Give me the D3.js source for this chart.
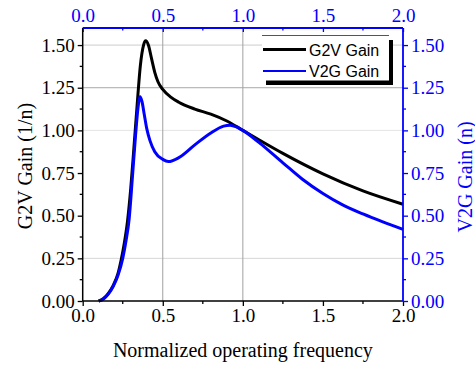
<!DOCTYPE html>
<html><head><meta charset="utf-8">
<script src="https://cdn.jsdelivr.net/npm/d3@7"></script>
<style>body{margin:0;background:#fff}svg{display:block}</style>
</head><body>
<svg id="c" width="475" height="367"></svg>
<script>
const seriesNames = ["G2V Gain", "V2G Gain"];
const seriesColors = ["#000000", "#0000ff"];
const g2vFreq = [0.10,0.13,0.16,0.19,0.22,0.24,0.26,0.28,0.30,0.32,0.34,0.36,0.38,0.393,0.41,0.43,0.45,0.47,0.50,0.55,0.60,0.70,0.80,0.90,1.00,1.10,1.25,1.50,1.75,2.00];
const g2vGain = [0.00,0.015,0.045,0.09,0.16,0.24,0.34,0.47,0.66,0.90,1.15,1.38,1.50,1.525,1.50,1.42,1.34,1.285,1.24,1.195,1.165,1.125,1.095,1.055,1.00,0.945,0.865,0.745,0.645,0.567];
const v2gFreq = [0.10,0.13,0.16,0.19,0.22,0.25,0.27,0.29,0.31,0.33,0.345,0.358,0.37,0.385,0.40,0.42,0.45,0.50,0.535,0.60,0.70,0.80,0.88,0.92,0.96,1.00,1.10,1.25,1.37,1.50,1.62,1.75,1.87,2.00];
const v2gGain = [0.00,0.012,0.04,0.085,0.15,0.25,0.35,0.48,0.72,0.97,1.13,1.197,1.17,1.09,1.01,0.94,0.875,0.83,0.817,0.84,0.915,0.985,1.025,1.03,1.02,1.00,0.93,0.81,0.715,0.63,0.565,0.51,0.465,0.42];
const xTicks = [0.0,0.5,1.0,1.5,2.0];
const xMinor = [0.25,0.75,1.25,1.75];
const yTicks = [0.00,0.25,0.50,0.75,1.00,1.25,1.50];
const yMinor = [0.125,0.375,0.625,0.875,1.125,1.375];
const hGrid = [0.25,1.00,1.25,1.50];
const vGrid = [0.5,1.0];
const xTitle = "Normalized operating frequency";
const yLeftTitle = "G2V Gain (1/n)";
const yRightTitle = "V2G Gain (n)";

const svg = d3.select("#c");
const L=82.7, R=403, T=28, B=301;
const x = d3.scaleLinear([0,2],[L,R]);
const y = d3.scaleLinear([0,1.6],[B,T]);
const serif = "'Liberation Serif','Times New Roman',serif";
const sans = "'Liberation Sans',Arial,sans-serif";
const blue = "#0000ff";

// grid
const hShade = {0.25:"#d6d6d6",1.00:"#e4e4e4",1.25:"#a8a8a8",1.50:"#cccccc"};
svg.append("g").selectAll("line").data(hGrid).join("line")
  .attr("x1",L).attr("x2",R).attr("y1",d=>y(d)).attr("y2",d=>y(d))
  .attr("stroke",d=>hShade[d]).attr("stroke-width",1);
svg.append("g").selectAll("line").data(vGrid).join("line")
  .attr("y1",T).attr("y2",B).attr("x1",d=>x(d)).attr("x2",d=>x(d))
  .attr("stroke","#a0a0a0").attr("stroke-width",1);

// curves
const line = d3.line().x(d=>x(d[0])).y(d=>y(d[1])).curve(d3.curveMonotoneX);
const g2v = g2vFreq.map((f,i)=>[f,g2vGain[i]]);
const v2g = v2gFreq.map((f,i)=>[f,v2gGain[i]]);
svg.append("path").datum(g2v).attr("d",line).attr("fill","none").attr("stroke",seriesColors[0]).attr("stroke-width",3);
svg.append("path").datum(v2g).attr("d",line).attr("fill","none").attr("stroke",seriesColors[1]).attr("stroke-width",3);

function styleAxis(g,color){
  g.select(".domain").remove();
  g.selectAll("line").attr("stroke",color).attr("stroke-width",1.3);
  g.selectAll("text").attr("fill",color).style("font-family",serif).style("font-size","19px");
}
// bottom
const gb = svg.append("g").attr("transform",`translate(0,${B})`)
  .call(d3.axisBottom(x).tickValues(xTicks).tickFormat(d3.format(".1f")).tickSizeInner(5).tickSizeOuter(0).tickPadding(3));
styleAxis(gb,"#000");
gb.append("g").selectAll("line").data(xMinor).join("line").attr("x1",d=>x(d)).attr("x2",d=>x(d)).attr("y1",0).attr("y2",3).attr("stroke","#000").attr("stroke-width",1.3);
// top
const gt = svg.append("g").attr("transform",`translate(0,${T})`)
  .call(d3.axisTop(x).tickValues(xTicks).tickFormat(d3.format(".1f")).tickSizeInner(-4).tickSizeOuter(0).tickPadding(6));
styleAxis(gt,blue);
gt.append("g").selectAll("line").data(xMinor).join("line").attr("x1",d=>x(d)).attr("x2",d=>x(d)).attr("y1",0).attr("y2",2.5).attr("stroke",blue).attr("stroke-width",1.3);
// left
const gl = svg.append("g").attr("transform",`translate(${L},0)`)
  .call(d3.axisLeft(y).tickValues(yTicks).tickFormat(d3.format(".2f")).tickSizeInner(5).tickSizeOuter(0).tickPadding(3));
styleAxis(gl,"#000");
gl.append("g").selectAll("line").data(yMinor).join("line").attr("y1",d=>y(d)).attr("y2",d=>y(d)).attr("x1",0).attr("x2",-3).attr("stroke","#000").attr("stroke-width",1.3);
// right
const gr = svg.append("g").attr("transform",`translate(${R},0)`)
  .call(d3.axisRight(y).tickValues(yTicks).tickFormat(d3.format(".2f")).tickSizeInner(5).tickSizeOuter(0).tickPadding(3));
styleAxis(gr,blue);
gr.append("g").selectAll("line").data(yMinor).join("line").attr("y1",d=>y(d)).attr("y2",d=>y(d)).attr("x1",0).attr("x2",3).attr("stroke",blue).attr("stroke-width",1.3);

// axis lines
svg.append("line").attr("x1",L).attr("x2",R).attr("y1",B).attr("y2",B).attr("stroke","#000").attr("stroke-width",1.5);
svg.append("line").attr("x1",L).attr("x2",L).attr("y1",T).attr("y2",B).attr("stroke","#000").attr("stroke-width",1.5);
svg.append("line").attr("x1",L).attr("x2",R).attr("y1",T).attr("y2",T).attr("stroke",blue).attr("stroke-width",1.8);
svg.append("line").attr("x1",R).attr("x2",R).attr("y1",T).attr("y2",B).attr("stroke",blue).attr("stroke-width",1.8);

// legend
const lg = svg.append("g");
lg.append("rect").attr("x",266).attr("y",40).attr("width",127).attr("height",45).attr("fill","#000");
lg.append("rect").attr("x",262).attr("y",35.5).attr("width",127).attr("height",45).attr("fill","#fff");
lg.append("line").attr("x1",262).attr("x2",389).attr("y1",35.5).attr("y2",35.5).attr("stroke","#555").attr("stroke-width",1);
const items = lg.selectAll("g.it").data(seriesNames).join("g").attr("class","it")
  .attr("transform",(d,i)=>`translate(0,${49.5+i*21.5})`);
items.append("line").attr("x1",263).attr("x2",306).attr("y1",0).attr("y2",0)
  .attr("stroke",(d,i)=>seriesColors[i]).attr("stroke-width",(d,i)=>i===0?3:2.2);
items.append("text").attr("x",309).attr("y",6).text(d=>d)
  .style("font-family",sans).style("font-size","16px").attr("fill","#000");

// titles
svg.append("text").attr("x",(L+R)/2).attr("y",357).attr("text-anchor","middle")
  .style("font-family",serif).style("font-size","20px").text(xTitle);
svg.append("text").attr("transform",`translate(32,166) rotate(-90)`).attr("text-anchor","middle")
  .style("font-family",serif).style("font-size","20px").text(yLeftTitle);
svg.append("text").attr("transform",`translate(472,177) rotate(-90)`).attr("text-anchor","middle")
  .attr("fill",blue).style("font-family",serif).style("font-size","20px").text(yRightTitle);
</script>
</body></html>
